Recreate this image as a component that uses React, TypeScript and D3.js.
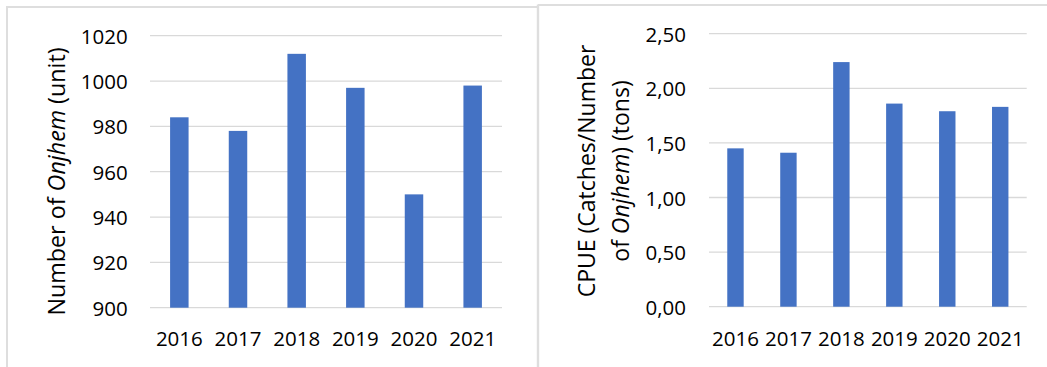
import React from "react";
import * as d3 from "d3";

const years = ["2016", "2017", "2018", "2019", "2020", "2021"];
const onjhemCount = [984, 978, 1012, 997, 950, 998];
const cpue = [1.45, 1.41, 2.24, 1.86, 1.79, 1.83];
const leftTicks = [900, 920, 940, 960, 980, 1000, 1020];
const rightTicks = [0, 0.5, 1, 1.5, 2, 2.5];

const W = 1047;
const H = 367;
const FONT = "'Open Sans', 'Liberation Sans', sans-serif";
const BAR = "#4472C4";
const GRID = "#d9d9d9";
const BORDER = "#dedede";

const commaFmt = d3.formatLocale({
  decimal: ",",
  thousands: ".",
  grouping: [3],
  currency: ["", ""],
}).format(".2f");

type PanelProps = {
  values: number[];
  ticks: number[];
  domain: [number, number];
  x0: number;
  x1: number;
  yTop: number;
  yBottom: number;
  labelX: number;
  padding: number;
  fmt: (v: number) => string;
};

function Panel({ values, ticks, domain, x0, x1, yTop, yBottom, labelX, padding, fmt }: PanelProps) {
  const x = d3.scaleBand<string>().domain(years).range([x0, x1]).paddingInner(padding).paddingOuter(padding / 2);
  const y = d3.scaleLinear().domain(domain).range([yBottom, yTop]);
  return (
    <g>
      {ticks.map((t) => (
        <g key={t}>
          <line x1={x0} x2={x1} y1={y(t)} y2={y(t)} stroke={GRID} strokeWidth={1.3} />
          <text x={labelX} y={y(t)} textAnchor="end" dominantBaseline="central" fontSize={20.5} fontFamily={FONT} fill="#000">
            {fmt(t)}
          </text>
        </g>
      ))}
      {values.map((v, i) => (
        <rect key={years[i]} x={x(years[i])} width={x.bandwidth()} y={y(v)} height={y(domain[0]) - y(v)} fill={BAR} />
      ))}
      {years.map((yr) => (
        <text key={yr} x={(x(yr) as number) + x.bandwidth() / 2} y={345.5} textAnchor="middle" fontSize={20.5} fontFamily={FONT} fill="#000">
          {yr}
        </text>
      ))}
    </g>
  );
}

export default function App() {
  return (
    <svg width={W} height={H} style={{ position: "absolute", left: 0, top: 0, background: "#fff" }}>
      <rect x={0} y={0} width={W} height={H} fill="#fff" />
      {/* panel borders */}
      <line x1={7} x2={7} y1={6} y2={H + 5} stroke={BORDER} strokeWidth={2} />
      <line x1={6} x2={538} y1={7} y2={7} stroke={BORDER} strokeWidth={2} />
      <line x1={538} x2={538} y1={4.5} y2={H + 5} stroke={BORDER} strokeWidth={2.4} />
      <line x1={538} x2={W} y1={5} y2={5} stroke={BORDER} strokeWidth={2} />

      <Panel
        values={onjhemCount}
        ticks={leftTicks}
        domain={[900, 1020]}
        x0={150}
        x1={502}
        yTop={35.7}
        yBottom={307.7}
        labelX={127.7}
        padding={0.685}
        fmt={(v) => String(v)}
      />
      <Panel
        values={cpue}
        ticks={rightTicks}
        domain={[0, 2.5]}
        x0={709}
        x1={1026.7}
        yTop={33.7}
        yBottom={306.7}
        labelX={686}
        padding={0.69}
        fmt={commaFmt}
      />

      {/* axis titles */}
      <text transform="translate(65,181.5) rotate(-90)" textAnchor="middle" fontSize={23.3} fontFamily={FONT} fill="#000">
        Number of <tspan fontStyle="italic">Onjhem</tspan> (unit)
      </text>
      <text transform="translate(595,171) rotate(-90)" textAnchor="middle" fontSize={23} fontFamily={FONT} fill="#000">
        CPUE (Catches/Number
      </text>
      <text transform="translate(629,171) rotate(-90)" textAnchor="middle" fontSize={23} fontFamily={FONT} fill="#000">
        of <tspan fontStyle="italic">Onjhem</tspan>) (tons)
      </text>
    </svg>
  );
}
